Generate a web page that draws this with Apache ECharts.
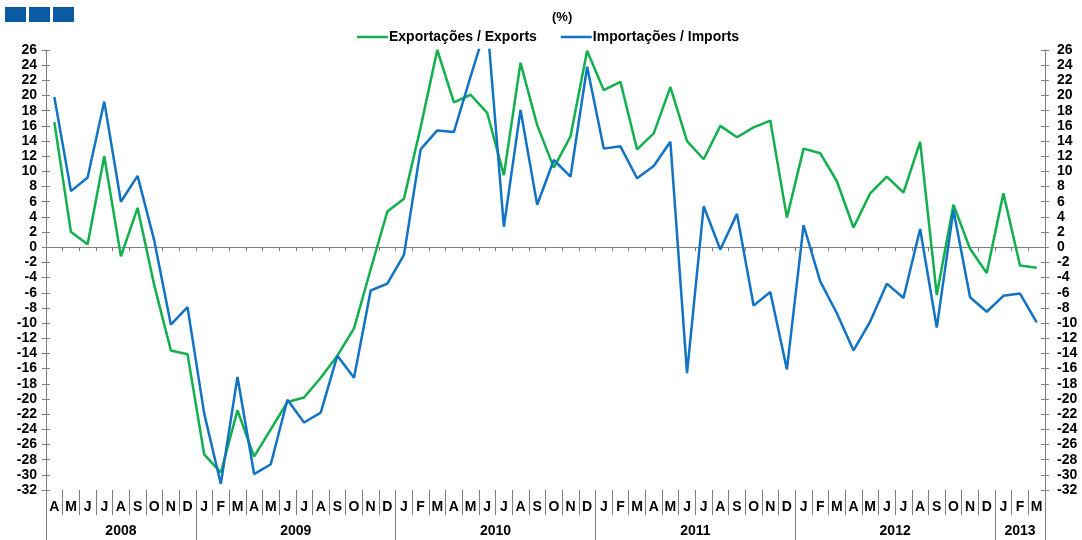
<!DOCTYPE html>
<html>
<head>
<meta charset="utf-8">
<script src="https://cdn.jsdelivr.net/npm/echarts@6/dist/echarts.min.js"></script>
<style>
  html, body { margin: 0; padding: 0; background: #fff; }
  #chart { width: 1082px; height: 540px; }
</style>
</head>
<body>
<div id="chart"></div>
<script>
// month letters, Apr 2008 .. Mar 2013
const months = [
  'A', 'M', 'J', 'J', 'A', 'S', 'O', 'N', 'D',
  'J', 'F', 'M', 'A', 'M', 'J', 'J', 'A', 'S', 'O', 'N', 'D',
  'J', 'F', 'M', 'A', 'M', 'J', 'J', 'A', 'S', 'O', 'N', 'D',
  'J', 'F', 'M', 'A', 'M', 'J', 'J', 'A', 'S', 'O', 'N', 'D',
  'J', 'F', 'M', 'A', 'M', 'J', 'J', 'A', 'S', 'O', 'N', 'D',
  'J', 'F', 'M',
]
const years = ['2008', '2009', '2010', '2011', '2012', '2013']
const monthsPerYear = [9, 12, 12, 12, 12, 3]

// (%) growth
const exportsData = [
  16.5, 2.0, 0.4, 12.0, -1.2, 5.2, -5.0, -13.6, -14.1,
  -27.3, -29.7, -21.5, -27.6, -24.0, -20.4, -19.8, -17.2, -14.3, -10.7, -2.9, 4.7,
  6.4, 15.8, 26.0, 19.1, 20.1, 17.7, 9.5, 24.3, 16.1, 10.5, 14.6, 25.9,
  20.7, 21.8, 12.9, 15.0, 21.1, 14.0, 11.6, 16.0, 14.5, 15.8, 16.7, 3.9,
  13.0, 12.4, 8.7, 2.6, 7.1, 9.3, 7.2, 13.9, -6.3, 5.6, -0.2, -3.4,
  7.1, -2.4, -2.7,
]
const importsData = [
  19.8, 7.4, 9.2, 19.2, 6.0, 9.4, 0.9, -10.2, -7.9,
  -21.9, -31.2, -17.1, -29.9, -28.6, -20.1, -23.1, -21.8, -14.3, -17.2, -5.7, -4.8,
  -1.0, 12.9, 15.4, 15.2, 22.5, 29.6, 2.7, 18.1, 5.6, 11.5, 9.3, 23.8,
  13.0, 13.3, 9.1, 10.7, 13.9, -16.6, 5.4, -0.3, 4.4, -7.7, -5.9, -16.1,
  2.9, -4.5, -8.7, -13.6, -9.8, -4.8, -6.7, 2.4, -10.6, 4.9, -6.6, -8.5,
  -6.4, -6.1, -9.9,
]

const yMin = -32
const yMax = 26
const yStep = 2

// year separators and label centres on a 0..60 value scale
const yearBounds = [0]
const yearCenters = []
monthsPerYear.forEach((n) => {
  const start = yearBounds[yearBounds.length - 1]
  yearCenters.push(start + n / 2)
  yearBounds.push(start + n)
})

const font = 'Liberation Sans, Arial, sans-serif'
const axisGray = '#7f7f7f'

const chart = echarts.init(document.getElementById('chart'))

function yAxisOf(position, inside, showLabel) {
  return {
    type: 'value',
    position: position,
    min: yMin,
    max: yMax,
    interval: yStep,
    axisLine: { show: !inside, onZero: false, lineStyle: { color: axisGray, width: 1 } },
    axisTick: { show: true, inside: inside, length: 4, lineStyle: { color: axisGray } },
    axisLabel: {
      show: showLabel,
      margin: position === 'left' ? 9 : 12,
      color: '#000',
      fontFamily: font,
      fontWeight: 'bold',
      fontSize: 14,
    },
    splitLine: { show: false },
  }
}

const option = {
  animation: false,
  textStyle: { fontFamily: font },
  title: {
    text: '(%)',
    left: 547,
    top: 6,
    textStyle: { fontSize: 13, fontWeight: 'bold', color: '#000', fontFamily: font },
  },
  legend: {
    left: 357,
    top: 30,
    padding: 0,
    icon: 'rect',
    itemWidth: 31,
    itemHeight: 2.5,
    itemGap: 24,
    textStyle: { fontSize: 14, fontWeight: 'bold', color: '#000', fontFamily: font, padding: [0, 0, 0, -4] },
    data: ['Exportações / Exports', 'Importações / Imports'],
  },
  graphic: [
    { type: 'rect', left: 5, top: 7, shape: { width: 21, height: 15 }, style: { fill: '#0b5aa2' } },
    { type: 'rect', left: 29, top: 7, shape: { width: 21, height: 15 }, style: { fill: '#0b5aa2' } },
    { type: 'rect', left: 53, top: 7, shape: { width: 21, height: 15 }, style: { fill: '#0b5aa2' } },
  ],
  grid: { left: 46, right: 37, top: 50, bottom: 50, containLabel: false },
  xAxis: [
    {
      // zero line with small ticks between months
      type: 'category',
      data: months,
      position: 'bottom',
      axisLine: { show: true, onZero: true, lineStyle: { color: axisGray, width: 1 } },
      axisTick: { show: true, length: 4, interval: 0, lineStyle: { color: axisGray } },
      axisLabel: { show: false },
      splitLine: { show: false },
    },
    {
      // month letters at the bottom
      type: 'category',
      data: months,
      position: 'bottom',
      axisLine: { show: false, onZero: false },
      axisTick: { show: true, length: 25, interval: 0, lineStyle: { color: axisGray } },
      axisLabel: {
        interval: 0,
        margin: 10,
        color: '#000',
        fontFamily: font,
        fontWeight: 'bold',
        fontSize: 14,
      },
      splitLine: { show: false },
    },
    {
      // years
      type: 'value',
      min: 0,
      max: months.length,
      position: 'bottom',
      axisLine: { show: false, onZero: false },
      axisTick: { show: true, length: 50, customValues: yearBounds, lineStyle: { color: axisGray } },
      axisLabel: {
        customValues: yearCenters,
        formatter: (v) => years[yearCenters.indexOf(v)],
        margin: 34,
        color: '#000',
        fontFamily: font,
        fontWeight: 'bold',
        fontSize: 14,
      },
      splitLine: { show: false },
    },
  ],
  yAxis: [
    yAxisOf('left', false, true),
    yAxisOf('right', false, true),
    yAxisOf('left', true, false),
    yAxisOf('right', true, false),
  ],
  series: [
    {
      name: 'Exportações / Exports',
      type: 'line',
      xAxisIndex: 0,
      yAxisIndex: 0,
      data: exportsData,
      symbol: 'none',
      clip: true,
      color: '#12b04d',
      lineStyle: { width: 2.5, color: '#12b04d' },
    },
    {
      name: 'Importações / Imports',
      type: 'line',
      xAxisIndex: 0,
      yAxisIndex: 0,
      data: importsData,
      symbol: 'none',
      clip: true,
      color: '#1273c4',
      lineStyle: { width: 2.5, color: '#1273c4' },
    },
  ],
}

chart.setOption(option)
</script>
</body>
</html>
